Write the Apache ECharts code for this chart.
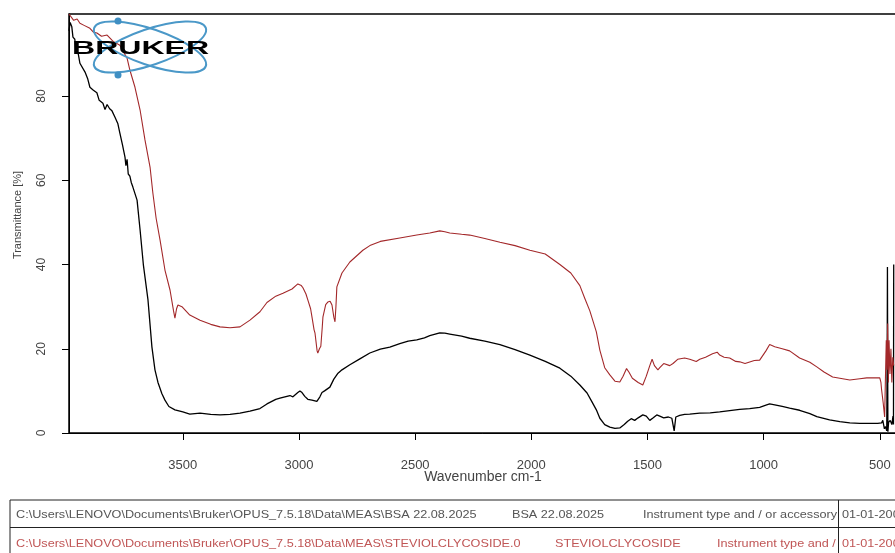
<!DOCTYPE html>
<html>
<head>
<meta charset="utf-8">
<script src="https://cdn.jsdelivr.net/npm/echarts@6/dist/echarts.min.js"></script>
<style>
  html, body { margin: 0; padding: 0; background: #fff; }
  #chart { width: 895px; height: 553px; }
</style>
</head>
<body>
<div id="chart"></div>
<script>
// FTIR spectra: BSA (black) and steviol glycoside (red)
const bsaWavenumber = [
  3990,3985,3978,3973,3965,3960,3950,3943,3935,3921,
  3910,3900,3885,3870,3860,3844,3835,3826,3815,3805,
  3792,3780,3771,3760,3749,3745,3740,3735,3728,3722,
  3715,3697,3684,3670,3650,3633,3620,3607,3590,3577,
  3560,3534,3500,3470,3426,3380,3340,3297,3254,3211,
  3168,3138,3100,3082,3039,3026,3005,2996,2987,2975,
  2962,2944,2923,2910,2901,2890,2867,2850,2832,2815,
  2781,2738,2695,2650,2609,2566,2530,2493,2460,2437,
  2394,2372,2351,2300,2265,2200,2135,2070,2006,1940,
  1877,1830,1791,1760,1740,1720,1705,1684,1662,1640,
  1619,1600,1585,1570,1555,1540,1520,1505,1490,1475,
  1460,1447,1430,1410,1395,1385,1378,1361,1340,1318,
  1275,1230,1189,1146,1103,1060,1017,990,974,952,
  920,888,845,801,771,716,672,629,586,543,
  509,492,487,480,475,470,468,467,465,462,
  455,448,443,441,440
];
const bsaTransmittance = [
  95.5,97.5,96.5,94.0,93.5,90.5,90.0,87.8,88.0,85.7,
  84.2,82.1,81.4,80.8,79.0,78.3,76.8,78.0,77.0,76.5,
  75.0,73.5,71.2,68.5,65.5,63.5,65.0,61.5,61.0,59.5,
  58.4,55.3,48.2,40.0,31.6,20.4,15.0,12.0,9.3,7.8,
  6.3,5.5,5.0,4.5,4.7,4.4,4.3,4.4,4.7,5.2,
  5.8,6.9,8.0,8.3,8.9,8.6,9.6,10.0,9.6,8.7,
  8.0,7.8,7.5,8.6,9.6,10.0,10.9,12.8,14.2,15.0,
  16.2,17.6,19.0,19.9,20.4,21.2,21.8,22.1,22.6,23.1,
  23.8,23.7,23.5,23.0,22.5,21.8,21.0,19.8,18.5,17.0,
  15.4,13.5,11.4,9.5,7.5,5.5,3.5,2.0,1.4,1.1,
  1.2,2.0,2.8,3.4,3.0,3.6,4.3,4.0,3.0,3.6,
  4.3,4.0,3.6,3.8,3.5,0.5,3.8,4.2,4.4,4.5,
  4.7,4.8,5.0,5.3,5.6,5.8,6.1,6.6,6.9,6.7,
  6.3,5.9,5.4,4.6,3.9,3.1,2.7,2.4,2.3,2.3,
  2.3,2.4,3.0,1.0,1.5,0.5,20,39.4,0.3,2.5,
  3.0,2.0,4.0,2.0,40
];
const steviolWavenumber = [
  3990,3986,3970,3955,3943,3925,3900,3885,3870,3850,
  3826,3800,3771,3755,3740,3728,3706,3684,3663,3641,
  3629,3615,3598,3577,3555,3540,3534,3527,3521,3504,
  3470,3426,3380,3340,3297,3254,3211,3168,3138,3100,
  3069,3030,3005,2990,2983,2970,2962,2950,2944,2935,
  2931,2922,2919,2912,2906,2900,2897,2885,2876,2866,
  2858,2850,2845,2841,2837,2815,2781,2725,2695,2650,
  2566,2493,2437,2394,2372,2351,2300,2265,2200,2135,
  2070,2006,1940,1877,1830,1791,1770,1748,1720,1705,
  1684,1662,1640,1619,1605,1590,1580,1565,1540,1520,
  1505,1490,1480,1470,1455,1447,1430,1404,1390,1370,
  1340,1318,1290,1275,1250,1220,1200,1189,1170,1146,
  1120,1103,1080,1040,1017,990,974,952,920,888,
  845,801,771,740,703,672,629,586,556,520,
  500,495,492,485,479,476,472,469,466,463,
  460,456,452,448,444,440
];
const steviolTransmittance = [
  99.5,99.2,98.0,98.3,97.3,96.8,96.1,95.2,95.0,94.2,
  94.5,93.0,92.1,90.5,89.0,86.2,82.1,76.7,69.6,63.1,
  57.0,51.0,45.8,38.7,33.9,29.0,27.3,29.5,30.4,30.0,
  28.0,26.8,25.8,25.2,25.0,25.2,26.8,28.8,31.0,32.5,
  33.2,34.2,35.4,35.0,34.5,33.0,31.6,29.5,27.5,24.5,
  23.7,19.5,19.0,20.0,20.6,25.0,27.5,30.5,31.1,31.3,
  30.4,27.5,26.4,30.0,34.7,38.0,40.6,43.4,44.5,45.5,
  46.3,47.0,47.5,48.0,47.8,47.5,47.2,47.0,46.2,45.3,
  44.5,43.4,42.5,40.0,38.0,35.0,32.0,29.0,24.0,19.7,
  15.5,13.8,12.3,12.1,13.5,15.3,14.5,13.0,12.0,11.4,
  13.5,16.0,17.5,16.0,15.0,15.5,16.5,16.0,16.5,17.5,
  17.8,17.5,17.0,17.5,18.0,18.8,19.2,18.5,18.0,17.8,
  17.0,16.9,16.5,17.2,17.3,19.5,21.0,20.5,20.0,19.5,
  17.8,16.8,15.7,14.5,13.3,13.0,12.6,12.9,13.1,13.1,
  13.1,12.0,10.2,7.0,3.8,12,22,15,26,12,
  22,14,20,12,18,16
];

// Axis ticks
const wavenumberTicks = [3500, 3000, 2500, 2000, 1500, 1000, 500];
const transmittanceTicks = [0, 20, 40, 60, 80];

// Info table rows under the plot
const fileRowBsa = ['C:\\Users\\LENOVO\\Documents\\Bruker\\OPUS_7.5.18\\Data\\MEAS\\BSA 22.08.2025', 'BSA 22.08.2025', 'Instrument type and / or accessory', '01-01-2000'];
const fileRowSteviol = ['C:\\Users\\LENOVO\\Documents\\Bruker\\OPUS_7.5.18\\Data\\MEAS\\STEVIOLCLYCOSIDE.0', 'STEVIOLCLYCOSIDE', 'Instrument type and /', '01-01-2000'];

const zip = (xs, ys) => xs.map((x, i) => [x, ys[i]]);

const FONT = 'Liberation Sans, Arial, sans-serif';
const chart = echarts.init(document.getElementById('chart'), null, { renderer: 'canvas' });

function rowTexts(row, y, color, xs) {
  return row.map((t, i) => ({
    type: 'text', x: xs[i], y: y, scaleX: 1.15, z: 20,
    style: { text: t, font: '11px ' + FONT, fill: color, verticalAlign: 'middle', textAlign: 'left' }
  }));
}

const option = {
  animation: false,
  backgroundColor: '#fff',
  grid: { left: 69, top: 14, right: -8, bottom: 120, containLabel: false, outerBoundsMode: 'none',
          show: true, borderColor: '#000', borderWidth: 1.5, backgroundColor: 'transparent' },
  xAxis: {
    type: 'value', inverse: true, min: 400, max: 3990,
    axisLine: { show: true, onZero: false, lineStyle: { color: '#000', width: 1 } },
    axisTick: { show: true, length: 7, customValues: wavenumberTicks, lineStyle: { color: '#000' } },
    axisLabel: { customValues: wavenumberTicks, formatter: v => String(v), margin: 26, fontSize: 13, fontFamily: FONT, color: '#444' },
    splitLine: { show: false }
  },
  yAxis: {
    type: 'value', min: 0, max: 99.5,
    axisLine: { show: true, lineStyle: { color: '#000', width: 1 } },
    axisTick: { show: true, length: 7, customValues: transmittanceTicks, lineStyle: { color: '#000' } },
    axisLabel: { customValues: transmittanceTicks, formatter: v => String(v), rotate: 90, margin: 21, fontSize: 12, fontFamily: FONT, color: '#444' },
    splitLine: { show: false }
  },
  series: [
    { name: 'BSA', type: 'line', data: zip(bsaWavenumber, bsaTransmittance), showSymbol: false,
      lineStyle: { color: '#000', width: 1.3 }, z: 3 },
    { name: 'STEVIOLCLYCOSIDE', type: 'line', data: zip(steviolWavenumber, steviolTransmittance), showSymbol: false,
      lineStyle: { color: '#a3282a', width: 1.1 }, z: 4 }
  ],
  graphic: [
    // axis titles
    { type: 'text', x: 483, y: 477, z: 20,
      style: { text: 'Wavenumber cm-1', font: '14px ' + FONT, fill: '#444', textAlign: 'center', verticalAlign: 'middle' } },
    { type: 'text', x: 18, y: 215, rotation: Math.PI / 2, z: 20,
      style: { text: 'Transmittance [%]', font: '11px ' + FONT, fill: '#444', textAlign: 'center', verticalAlign: 'middle' } },
    // logo: two crossed orbits, electrons and lettering
    { type: 'ellipse', shape: { cx: 150, cy: 47, rx: 59, ry: 18 }, originX: 150, originY: 47,
      rotation: -0.33, z: 30, style: { fill: 'none', stroke: '#4a98c8', lineWidth: 2 } },
    { type: 'ellipse', shape: { cx: 150, cy: 47, rx: 59, ry: 18 }, originX: 150, originY: 47,
      rotation: 0.33, z: 30, style: { fill: 'none', stroke: '#4a98c8', lineWidth: 2 } },
    { type: 'circle', shape: { cx: 118, cy: 21, r: 3.5 }, z: 31, style: { fill: '#3f8fc3' } },
    { type: 'circle', shape: { cx: 118, cy: 75, r: 3.5 }, z: 31, style: { fill: '#3f8fc3' } },
    { type: 'text', x: 72, y: 49, scaleX: 1.78, z: 32,
      style: { text: 'BRUKER', font: '900 18px ' + FONT, fill: '#000', textAlign: 'left', verticalAlign: 'middle' } },
    // info table frame
    { type: 'rect', shape: { x: 10, y: 500, width: 900, height: 60 }, z: 10,
      style: { fill: 'none', stroke: '#222', lineWidth: 1 } },
    { type: 'line', shape: { x1: 10, y1: 527.5, x2: 900, y2: 527.5 }, z: 10, style: { stroke: '#222', lineWidth: 1 } },
    { type: 'line', shape: { x1: 838.5, y1: 500, x2: 838.5, y2: 560 }, z: 10, style: { stroke: '#222', lineWidth: 1 } }
  ]
    .concat(rowTexts(fileRowBsa, 515, '#555', [16, 512, 643, 842]))
    .concat(rowTexts(fileRowSteviol, 544, '#c05656', [16, 555, 717, 842]))
};

chart.setOption(option);
</script>
</body>
</html>
